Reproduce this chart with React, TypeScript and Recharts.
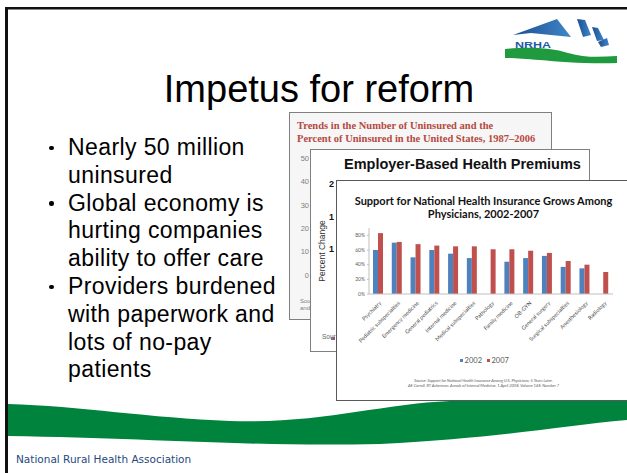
import { BarChart, Bar, XAxis, YAxis, Legend } from 'recharts';

// specialties along the x axis
const specialties = [
  'Psychiatry', 'Pediatric subspecialties', 'Emergency medicine', 'General pediatrics',
  'Internal medicine', 'Medical subspecialties', 'Pathology', 'Family medicine',
  'OB-GYN', 'General surgery', 'Surgical subspecialties', 'Anesthesiology', 'Radiology',
];
// share of physicians supporting national health insurance
const support2002 = [0.60, 0.70, 0.50, 0.60, 0.55, 0.49, null, 0.44, 0.49, 0.52, 0.37, 0.35, null];
const support2007 = [0.83, 0.71, 0.68, 0.66, 0.65, 0.65, 0.61, 0.61, 0.59, 0.56, 0.45, 0.40, 0.30];
const percentTicks = [0, 0.2, 0.4, 0.6, 0.8];

const bullets = [
  ['Nearly 50 million', 'uninsured'],
  ['Global economy is', 'hurting companies', 'ability to offer care'],
  ['Providers burdened', 'with paperwork and', 'lots of no-pay', 'patients'],
];
const trendsTicks = ['50', '40', '30', '20', '10', '0'];

const data = specialties.map((s, i) => ({ specialty: s, y2002: support2002[i], y2007: support2007[i] }));

const SpecialtyTick = ({ x, y, payload }: any) => (
  <text
    x={x + 2} y={y} dy={2} textAnchor="end" fontSize={5.5} fill="#4d4d4d" fontFamily="Lato"
    transform={`rotate(-45 ${x + 2} ${y})`}
  >
    {payload.value}
  </text>
);

const LegendContent = ({ payload }: any) => (
  <div style={{ display: 'flex', justifyContent: 'center', gap: 5, paddingLeft: 6, fontSize: 7.5, fontFamily: 'Lato', color: '#595959' }}>
    {(payload || []).map((p: any) => (
      <span key={p.value} style={{ display: 'flex', alignItems: 'center' }}>
        <span style={{ display: 'inline-block', width: 3, height: 3, background: p.color, marginRight: 1.5 }} />
        {p.value}
      </span>
    ))}
  </div>
);

const abs = (left: number, top: number, extra: any = {}) => ({ position: 'absolute' as const, left, top, ...extra });

export default function App() {
  return (
    <div style={abs(0, 0, { width: 627, height: 473, background: '#fff', overflow: 'hidden', fontFamily: '"Liberation Sans", Arial, sans-serif' })}>
      {/* slide decoration */}
      <svg width={627} height={473} style={abs(0, 0)}>
        <defs>
          <linearGradient id="ray" x1="0" y1="0" x2="1" y2="0">
            <stop offset="0%" stopColor="#1d4f91" />
            <stop offset="100%" stopColor="#3f86c8" />
          </linearGradient>
        </defs>
        <rect x={5} y={7} width={622} height={2.5} fill="#111" />
        <rect x={5} y={7} width={3} height={466} fill="#111" />
        <path
          d="M8,404 C80,406 150,418 230,421 C320,424 380,404 450,401 C520,398 580,400 627,400 L627,420 C560,426 500,438 380,444 C250,447 150,438 8,436 Z"
          fill="#00843d"
        />
        <polygon points="513,35 557,19 571,37 531,33" fill="url(#ray)" />
        <polygon points="577,19 585,20 591,35 583,37" fill="url(#ray)" />
        <polygon points="592,27 598,28 604,40 597,41" fill="url(#ray)" />
        <polygon points="598,42 607,38 609,45 601,47" fill="url(#ray)" />
        <path d="M505,49 C525,47 550,47 568,53 C585,58 600,57 617,56 L617,63 C590,64 560,62 540,60 C525,59 515,58 505,58 Z" fill="#1f9a3e" />
        <text x={515} y={48} fontSize={9.5} fontWeight="bold" fill="#1d5ba6" textLength={36} lengthAdjust="spacingAndGlyphs">NRHA</text>
        <text x={319} y={102} fontSize={38} textAnchor="middle" fill="#000">Impetus for reform</text>
        <text x={16} y={463} fontSize={10.5} fontFamily="DejaVu Sans" fill="#1f497d">National Rural Health Association</text>
      </svg>

      {/* bullets */}
      {bullets.map((lines, b) => {
        const start = bullets.slice(0, b).reduce((n, l) => n + l.length, 0);
        return lines.map((line, j) => (
          <div key={`${b}-${j}`} style={abs(68, 155 + (start + j) * 27.8 - 21, { fontSize: 23, letterSpacing: 0.4, lineHeight: '26px', color: '#000', whiteSpace: 'nowrap' })}>
            {j === 0 && <span style={{ position: 'absolute', left: -19, top: 11.5, width: 4.5, height: 4.5, borderRadius: '50%', background: '#000' }} />}
            {line}
          </div>
        ));
      })}

      {/* back picture: uninsured trends */}
      <div style={abs(289, 112, { width: 263, height: 208, background: '#f6f6f6', border: '1px solid #7f7f7f', boxSizing: 'border-box' })}>
        <div style={abs(7, 6, { fontFamily: '"Liberation Serif", serif', fontWeight: 'bold', fontSize: 10.5, lineHeight: '13px', color: '#b5493f', whiteSpace: 'nowrap' })}>
          Trends in the Number of Uninsured and the<br />Percent of Uninsured in the United States, 1987–2006
        </div>
        {trendsTicks.map((t, i) => (
          <div key={t} style={abs(0, 41 + i * 23.3, { width: 19, textAlign: 'right', fontSize: 7.5, color: '#808080' })}>{t}</div>
        ))}
        <div style={abs(10, 185, { fontSize: 6, lineHeight: '7px', color: '#808080' })}>Sou<br />and</div>
      </div>

      {/* middle picture: employer premiums */}
      <div style={abs(310, 149, { width: 280, height: 203, background: '#fff', border: '1px solid #7f7f7f', boxSizing: 'border-box' })}>
        <div style={abs(33, 6, { fontWeight: 'bold', fontSize: 14.5, color: '#111', whiteSpace: 'nowrap' })}>Employer-Based Health Premiums</div>
        {['2', '1', '1'].map((t, i) => (
          <div key={i} style={abs(18, [29, 62, 94][i], { fontWeight: 'bold', fontSize: 9, color: '#111' })}>{t}</div>
        ))}
        <div style={abs(-20, 96, { fontSize: 8.5, color: '#333', transform: 'rotate(-90deg)', whiteSpace: 'nowrap', width: 62, textAlign: 'center' })}>Percent Change</div>
        <div style={abs(11, 183, { fontSize: 6.5, color: '#666' })}>Sour</div>
        <div style={abs(20, 187, { width: 2, height: 3, background: '#4f81bd' })} />
        <div style={abs(22, 187, { width: 2, height: 3, background: '#c0504d' })} />
      </div>

      {/* front picture: the chart */}
      <div style={abs(336, 180, { width: 300, height: 221, background: '#fff', border: '1px solid #595959', boxSizing: 'border-box' })}>
        <div style={abs(0, 14, { width: 293, textAlign: 'center', fontFamily: 'Lato', fontWeight: 'bold', fontSize: 11, lineHeight: '12.5px', color: '#111' })}>
          Support for National Health Insurance Grows Among<br />Physicians, 2002-2007
        </div>
        <div style={abs(-1, -1)}>
          <BarChart width={291} height={221} data={data} margin={{ top: 48, right: 14, bottom: 0, left: 0 }} barSize={5} barGap={0}>
            <XAxis dataKey="specialty" interval={0} height={107} tick={SpecialtyTick} tickLine={false} axisLine={{ stroke: '#bfbfbf' }} />
            <YAxis
              width={33} domain={[0, 0.9]} ticks={percentTicks} tickSize={2}
              tickFormatter={(v: number) => `${Math.round(v * 100)}%`}
              tick={{ fontSize: 5, fill: '#595959', fontFamily: 'Lato' }}
              tickLine={{ stroke: '#bfbfbf' }} axisLine={{ stroke: '#bfbfbf' }}
            />
            <Legend
              layout="horizontal" verticalAlign="middle" align="center"
              wrapperStyle={{ top: 176, left: 0, width: 291 }}
              content={LegendContent}
            />
            <Bar dataKey="y2002" name="2002" fill="#4f81bd" isAnimationActive={false} />
            <Bar dataKey="y2007" name="2007" fill="#c0504d" isAnimationActive={false} />
          </BarChart>
        </div>
        <div style={abs(0, 197, { width: 293, textAlign: 'center', fontFamily: 'Lato', fontStyle: 'italic', fontSize: 4, lineHeight: '5px', color: '#595959', whiteSpace: 'nowrap' })}>
          Source: Support for National Health Insurance Among U.S. Physicians: 5 Years Later.<br />
          AE Carroll, RT Ackerman. Annals of Internal Medicine, 1 April 2008, Volume 148, Number 7
        </div>
      </div>
    </div>
  );
}
